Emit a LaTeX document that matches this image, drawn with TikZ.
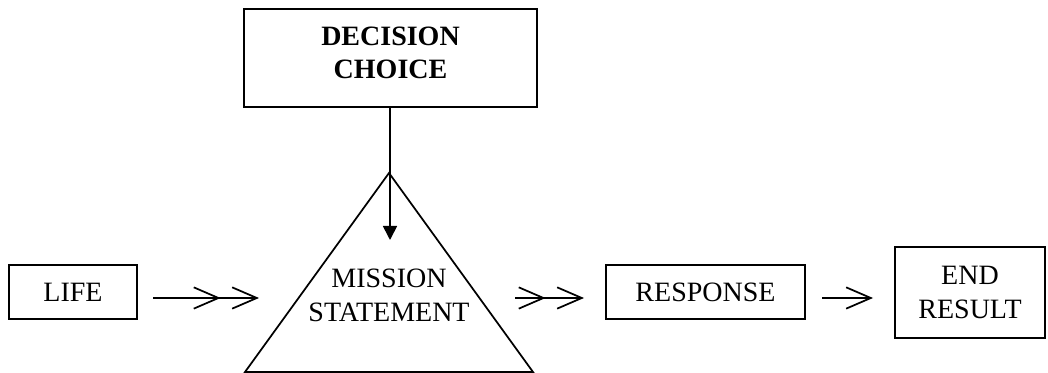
\documentclass[tikz,border=0pt]{standalone}
\usepackage{fontspec}
\setmainfont{Liberation Serif}
\usetikzlibrary{arrows.meta}
\begin{document}
\begin{tikzpicture}[x=0.75pt,y=0.75pt,line width=1.3pt,
  every node/.style={font=\fontsize{21pt}{25pt}\selectfont, align=center},
  box/.style={draw, rectangle, inner sep=0pt},
  dbl/.style={-{Straight Barb[length=18.5pt,width=16pt,sep=8pt] Straight Barb[length=18.5pt,width=16pt]}},
  sgl/.style={-{Straight Barb[length=18.5pt,width=16pt]}},
  down/.style={-{Triangle[length=10.5pt,width=10.5pt]}}]
\useasboundingbox (0,0) rectangle (1048,373);
\node[box, minimum width=128*0.75pt, minimum height=54*0.75pt] (life) at (73,81) {LIFE};
\node[box, minimum width=293*0.75pt, minimum height=98*0.75pt, text depth=8pt, font=\fontsize{21pt}{25pt}\selectfont\bfseries] (dec) at (390.5,315) {DECISION\\CHOICE};
\node[box, minimum width=199*0.75pt, minimum height=54*0.75pt] (resp) at (705.5,81) {RESPONSE};
\node[box, minimum width=150*0.75pt, minimum height=91*0.75pt] (end) at (970,80.5) {END\\RESULT};
\coordinate (apex) at (389,200);
\coordinate (bl) at (245,1);
\coordinate (br) at (533,1);
\draw (apex) -- (bl) -- (br) -- cycle;
\node (mission) at (389,77.5) {MISSION\\STATEMENT};
\coordinate (dtip) at (390,133);
\draw[down] (dec.south -| dtip) -- (dtip);
\coordinate (a1s) at (153,75);
\coordinate (a1e) at (259,75);
\coordinate (a2s) at (515,75);
\coordinate (a2e) at (584,75);
\coordinate (a3s) at (822,75);
\coordinate (a3e) at (873,75);
\draw[dbl] (a1s) -- (a1e);
\draw[dbl] (a2s) -- (a2e);
\draw[sgl] (a3s) -- (a3e);
\end{tikzpicture}
\end{document}
